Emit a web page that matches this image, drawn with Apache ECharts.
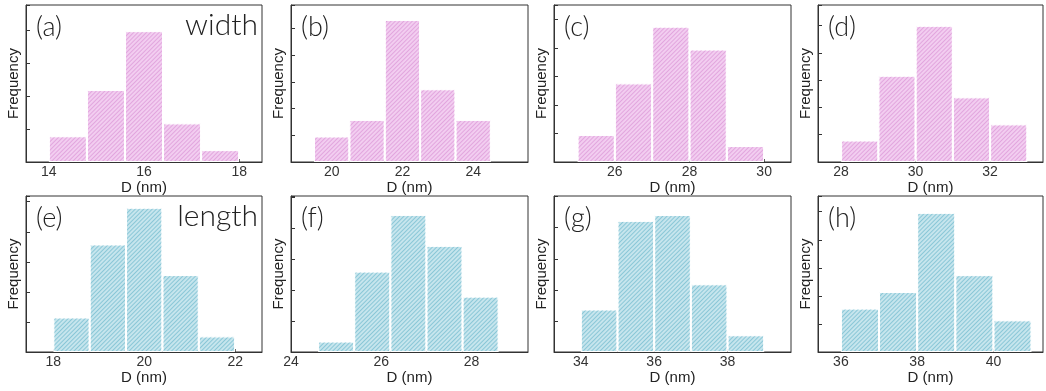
<!DOCTYPE html>
<html>
<head>
<meta charset="utf-8">
<script src="https://cdn.jsdelivr.net/npm/echarts@6/dist/echarts.min.js"></script>
<style>
html,body{margin:0;padding:0;background:#fff;}
#chart{width:1046px;height:391px;}
</style>
</head>
<body>
<div id="chart"></div>
<script>
// ---- data ----
const panelLabels = ['(a)', '(b)', '(c)', '(d)', '(e)', '(f)', '(g)', '(h)'];
const rowTitles = ['width', 'length'];
const xAxisTitle = 'D (nm)';
const yAxisTitle = 'Frequency';

const binsA = [14.4, 15.2, 16.0, 16.8, 17.6];
const freqA = [7.8, 21.8, 39.6, 11.7, 3.6];
const ticksA = [14, 16, 18];

const binsB = [20, 21, 22, 23, 24];
const freqB = [9.6, 15.8, 53.3, 27.3, 15.8];
const ticksB = [20, 22, 24];

const binsC = [25.5, 26.5, 27.5, 28.5, 29.5];
const freqC = [9.5, 27.6, 47.5, 39.5, 5.6];
const ticksC = [26, 28, 30];

const binsD = [28.5, 29.5, 30.5, 31.5, 32.5];
const freqD = [7.9, 31.6, 49.9, 23.7, 13.8];
const ticksD = [28, 30, 32];

const binsE = [18.4, 19.2, 20.0, 20.8, 21.6];
const freqE = [11.5, 35.8, 48.0, 25.6, 5.2];
const ticksE = [18, 20, 22];

const binsF = [25.0, 25.8, 26.6, 27.4, 28.2];
const freqF = [3.4, 26.0, 44.3, 34.3, 17.9];
const ticksF = [24, 26, 28];

const binsG = [34.5, 35.5, 36.5, 37.5, 38.5];
const freqG = [13.7, 42.2, 44.1, 21.8, 5.4];
const ticksG = [34, 36, 38];

const binsH = [36.5, 37.5, 38.5, 39.5, 40.5];
const freqH = [15.5, 21.4, 49.6, 27.4, 11.3];
const ticksH = [36, 38, 40];

// axis ranges
const xRanges = [[13.52, 18.48], [18.85, 25.55], [24.37, 30.72], [27.38, 33.42],
                 [17.4, 22.59], [24.0, 29.25], [33.27, 39.73], [35.4, 41.3]];
const yMax = [47.5, 58.9, 55.1, 57.5, 51.9, 50.4, 50.2, 55.6];

const allBins = [binsA, binsB, binsC, binsD, binsE, binsF, binsG, binsH];
const allFreq = [freqA, freqB, freqC, freqD, freqE, freqF, freqG, freqH];
const allTicks = [ticksA, ticksB, ticksC, ticksD, ticksE, ticksF, ticksG, ticksH];

// ---- layout ----
const colLeft = [26, 291, 554, 818];
const colWidth = [236, 237, 237, 225];
const rowTop = [5, 196];
const rowHeight = [157, 156];

const styles = [
  {base: '#f2cdf0', line: '#e2a6de'},
  {base: '#c6e5ed', line: '#8ac7d7'}
];

const grids = [], xAxes = [], yAxes = [], series = [], graphics = [];
for (let i = 0; i < 8; i++) {
  const r = Math.floor(i / 4), c = i % 4;
  grids.push({
    left: colLeft[c], top: rowTop[r], width: colWidth[c], height: rowHeight[r],
    show: true, borderColor: '#333', borderWidth: 1, backgroundColor: 'transparent'
  });
  xAxes.push({
    gridIndex: i, type: 'value', min: xRanges[i][0], max: xRanges[i][1],
    axisLine: {show: true, onZero: false, lineStyle: {color: '#333', width: 1}},
    axisTick: {show: true, inside: true, length: 3, customValues: allTicks[i], lineStyle: {color: '#333'}},
    axisLabel: {show: true, customValues: allTicks[i], margin: 3, fontSize: 14,
                fontFamily: 'Liberation Sans, Arial, sans-serif', color: '#333'},
    splitLine: {show: false},
    name: xAxisTitle, nameLocation: 'middle', nameGap: 16,
    nameTextStyle: {fontSize: 15, fontFamily: 'Liberation Sans, Arial, sans-serif', color: '#222'}
  });
  yAxes.push({
    gridIndex: i, type: 'value', min: 0, max: yMax[i], interval: 10,
    axisLine: {show: true, lineStyle: {color: '#333', width: 1}},
    axisTick: {show: true, inside: true, length: 4, lineStyle: {color: '#333'}},
    axisLabel: {show: false},
    splitLine: {show: false},
    name: yAxisTitle, nameLocation: 'middle', nameGap: 5, nameRotate: 90,
    nameTextStyle: {fontSize: 15, fontFamily: 'Liberation Sans, Arial, sans-serif', color: '#222'}
  });
  const st = styles[r];
  series.push({
    type: 'bar', xAxisIndex: i, yAxisIndex: i,
    data: allBins[i].map((b, k) => [b, allFreq[i][k]]),
    barWidth: '100%',
    itemStyle: {
      color: st.base, borderColor: '#ffffff', borderWidth: 1,
      decal: {symbol: 'rect', symbolSize: 1, dashArrayX: [1, 0], dashArrayY: [1, 1.2],
              rotation: -Math.PI / 4, color: st.line}
    },
    silent: true, animation: false
  });
  graphics.push({
    type: 'text', left: colLeft[c] + 10, top: rowTop[r] + 9,
    style: {text: panelLabels[i], fontSize: 27, fontWeight: 300, fontFamily: 'Lato, Open Sans, sans-serif', fill: '#222'}
  });
}
graphics.push({type: 'text', right: 1046 - 258, top: 10,
  style: {text: rowTitles[0], fontSize: 30, fontWeight: 300, fontFamily: 'Lato, Open Sans, sans-serif', fill: '#222'}});
graphics.push({type: 'text', right: 1046 - 258, top: 201,
  style: {text: rowTitles[1], fontSize: 30, fontWeight: 300, fontFamily: 'Lato, Open Sans, sans-serif', fill: '#222'}});

const chart = echarts.init(document.getElementById('chart'), null, {renderer: 'canvas'});
chart.setOption({
  animation: false,
  grid: grids, xAxis: xAxes, yAxis: yAxes, series: series, graphic: graphics
});
</script>
</body>
</html>
